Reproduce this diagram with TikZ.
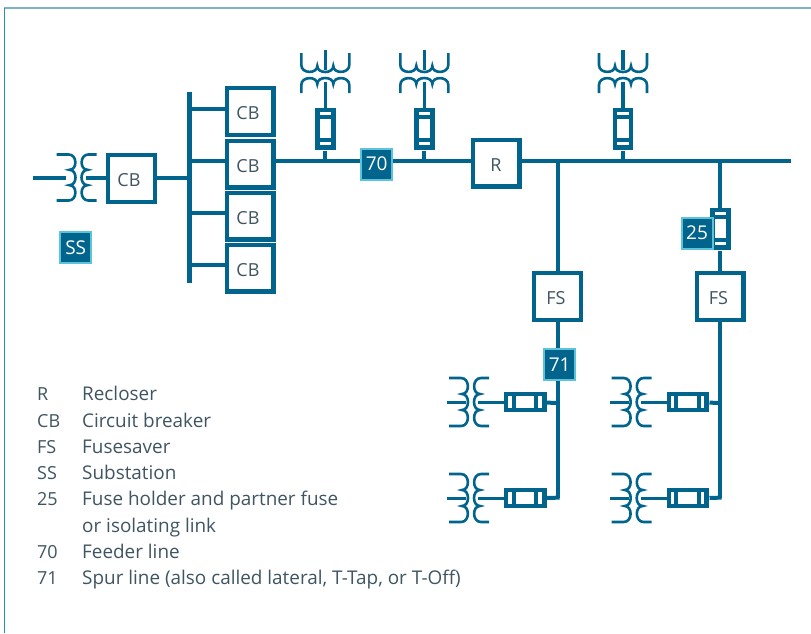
\documentclass[tikz,border=0pt]{standalone}
\usepackage{fontspec}
\setmainfont{Open Sans}
\definecolor{mainblue}{HTML}{00648C}
\definecolor{lightedge}{HTML}{5CC3DA}
\definecolor{inktext}{HTML}{3F5561}
\definecolor{frametop}{HTML}{7FB2C4}
\definecolor{frameleft}{HTML}{2A8FA8}
\newcommand{\nudged}[2]{\raisebox{-1.6pt}[\height][0pt]{\kern-#1pt #2}}
\tikzset{
  wire/.style={draw=mainblue,line width=4pt},
  boxnode/.style={draw=mainblue,line width=4.2pt,fill=white,minimum width=46.8pt,minimum height=46.8pt,inner sep=0pt,text=inktext,font=\fontsize{18}{20}\selectfont},
  tagnode/.style={draw=lightedge,line width=2pt,fill=mainblue,minimum width=31pt,minimum height=31pt,inner sep=0pt,text=white,font=\fontsize{19}{20}\selectfont},
  legendkey/.style={anchor=base west,inner sep=0pt,text=inktext,font=\fontsize{18}{20}\selectfont},
  legend/.style={anchor=base west,inner sep=0pt,text=inktext,font=\fontsize{18.9}{20}\selectfont},
  pics/xfmr/.style={code={
    \draw[mainblue,line width=2.6pt,line cap=butt]
      (-22,-24) -- (-10,-24) .. controls (-1,-24) and (-1,-8) .. (-9,-8)
      .. controls (-1,-8) and (-1,8) .. (-9,8)
      .. controls (-1,8) and (-1,24) .. (-10,24) -- (-22,24);
    \draw[mainblue,line width=2.6pt,line cap=butt]
      (18,-24) -- (10,-24) .. controls (1,-24) and (1,-8) .. (9,-8)
      .. controls (1,-8) and (1,8) .. (9,8)
      .. controls (1,8) and (1,24) .. (10,24) -- (18,24);
    \coordinate (-in) at (-5,0);
    \coordinate (-out) at (7,0);
  }},
  pics/fuse/.style={code={
    \node[fill=mainblue,draw=none,minimum width=20.8pt,minimum height=42.6pt,inner sep=0pt,transform shape] (-b) at (0,0) {};
    \fill[white] (-5.8,-9.7) rectangle (5.8,8.7);
    \fill[white] (-5.8,-17.3) rectangle (5.8,-13.7);
    \fill[white] (-5.8,12.7) rectangle (5.8,16.3);
  }},
}
\begin{document}
\begin{tikzpicture}[x=1pt,y=-1pt]
\useasboundingbox (0,0) rectangle (811,633);
% frame
\draw[frametop,line width=1.8pt] (4,8.2) -- (811,8.2);
\draw[frameleft,line width=1.4pt] (4.2,8) -- (4.2,633);

% boxes
\node[boxnode] (cb0) at (131.5,178.5) {\nudged{5}{CB}};
\node[boxnode] (cb1) at (250,111.5) {\nudged{4}{CB}};
\node[boxnode] (cb2) at (250,164) {\nudged{4}{CB}};
\node[boxnode] (cb3) at (250,216) {\nudged{4}{CB}};
\node[boxnode] (cb4) at (250,268) {\nudged{4}{CB}};
\node[boxnode] (rc) at (496,163) {\nudged{0}{R}};
\node[boxnode] (fs1) at (557.5,296.5) {\nudged{3}{FS}};
\node[boxnode] (fs2) at (720,296.5) {\nudged{3}{FS}};

% bus bar and substation
\coordinate (bustop) at (189.5,92.3);
\coordinate (busbot) at (189.5,283.3);
\draw[mainblue,line width=4.6pt] (bustop) -- (busbot);
\coordinate (s0) at (189.5,177.5);
\coordinate (s1) at (189.5,109.3);
\coordinate (s2) at (189.5,161);
\coordinate (s3) at (189.5,213.3);
\coordinate (s4) at (189.5,265.3);
\draw[wire] (cb0.east |- s0) -- (s0);
\draw[wire] (s1) -- (s1 -| cb1.west);
\draw[wire] (s2) -- (s2 -| cb2.west);
\draw[wire] (s3) -- (s3 -| cb3.west);
\draw[wire] (s4) -- (s4 -| cb4.west);

% substation transformer
\pic[yscale=.96] (t0) at (78.5,177.5) {xfmr};
\coordinate (feedin) at (33,177.5);
\coordinate (feedstop) at (66,177.5);
\draw[wire] (feedin) -- (feedstop);
\draw[wire] (t0-out) -- (t0-out -| cb0.west);

% feeder
\coordinate (feedend) at (790.5,161.2);
\coordinate (j1) at (325.3,161.2);
\coordinate (j2) at (424.3,161.2);
\coordinate (j3) at (623,161.2);
\coordinate (j4) at (557.5,161.2);
\coordinate (j5) at (720,161.2);
\draw[wire] (cb2.east |- j1) -- (rc.west |- j1);
\draw[wire] (rc.east |- j1) -- (feedend);

\node[tagnode] (t70) at (376.7,164) {70};

% overhead transformers and fuses
\pic[rotate=-90] (a1) at (325.3,75) {xfmr};
\pic[rotate=-90] (a2) at (424.3,75) {xfmr};
\pic[rotate=-90] (a3) at (623,75) {xfmr};
\pic (f1) at (325.3,129) {fuse};
\pic (f2) at (424.3,129) {fuse};
\pic (f3) at (623,129) {fuse};
\foreach \n in {1,2,3}{
  \draw[mainblue,line width=3.6pt] (a\n-in) -- ++(0,-20);
  \draw[mainblue,line width=3.6pt] (a\n-out) -- (f\n-b.north);
  \draw[wire] (f\n-b.south) -- (j\n);
}

% spur lines
\node[tagnode] (t71) at (559.7,364.8) {71};
\coordinate (c1) at (559.5,497.7);
\coordinate (c2) at (721.5,497.7);
\coordinate (b1) at (559.5,403);
\coordinate (b2) at (721.5,403);
\draw[wire] (j4) -- (j4 |- fs1.north);
\draw[wire] (fs1.south) -- (fs1.south |- t71.north);
\draw[wire] (t71.south -| fs1.south) -- (fs1.south |- c1);
\draw[wire] (j5) -- (j5 |- 0,208);
\pic (f25) at (720.5,229) {fuse};
\draw[wire] (f25-b.south -| j5) -- (j5 |- fs2.north);
\draw[wire] (fs2.south) -- (fs2.south |- c2);
\node[tagnode] (t25) at (697,233) {25};

% distribution transformers
\pic[rotate=90] (g1) at (525.5,402) {fuse};
\pic[rotate=90] (g2) at (525.5,498) {fuse};
\pic[rotate=90] (g3) at (688,402) {fuse};
\pic[rotate=90] (g4) at (688,498) {fuse};
\pic (h1) at (471,402) {xfmr};
\pic (h2) at (471,498) {xfmr};
\pic (h3) at (633.7,402) {xfmr};
\pic (h4) at (633.7,498) {xfmr};
\foreach \n in {1,2,3,4}{
  \draw[mainblue,line width=3pt] (h\n-in) -- ++(-19,0);
  \draw[mainblue,line width=3pt] (h\n-out) -- (g\n-b);
}
\draw[wire] (g1-b) -- (b1);
\draw[wire] (g2-b) -- (c1);
\draw[wire] (g3-b) -- (b2);
\draw[wire] (g4-b) -- (c2);

\node[tagnode] (ss) at (75.7,247.7) {SS};

% legend
\node[legendkey] (l1a) at (37,400.5) {R};
\node[legend] (l1b) at (82,400.5) {Recloser};
\node[legendkey] (l2a) at (37,427) {CB};
\node[legend] (l2b) at (82,427) {Circuit breaker};
\node[legendkey] (l3a) at (37,453.3) {FS};
\node[legend] (l3b) at (82,453.3) {Fusesaver};
\node[legendkey] (l4a) at (37,479.5) {SS};
\node[legend] (l4b) at (82,479.5) {Substation};
\node[legendkey] (l5a) at (37,505.8) {25};
\node[legend] (l5b) at (82,505.8) {Fuse holder and partner fuse};
\node[legend] (l6b) at (82,532.2) {or isolating link};
\node[legendkey] (l7a) at (37,558.5) {70};
\node[legend] (l7b) at (82,558.5) {Feeder line};
\node[legendkey] (l8a) at (37,584.8) {71};
\node[legend] (l8b) at (82,584.8) {Spur line (also called lateral, T-Tap, or T-Off)};
\end{tikzpicture}
\end{document}
